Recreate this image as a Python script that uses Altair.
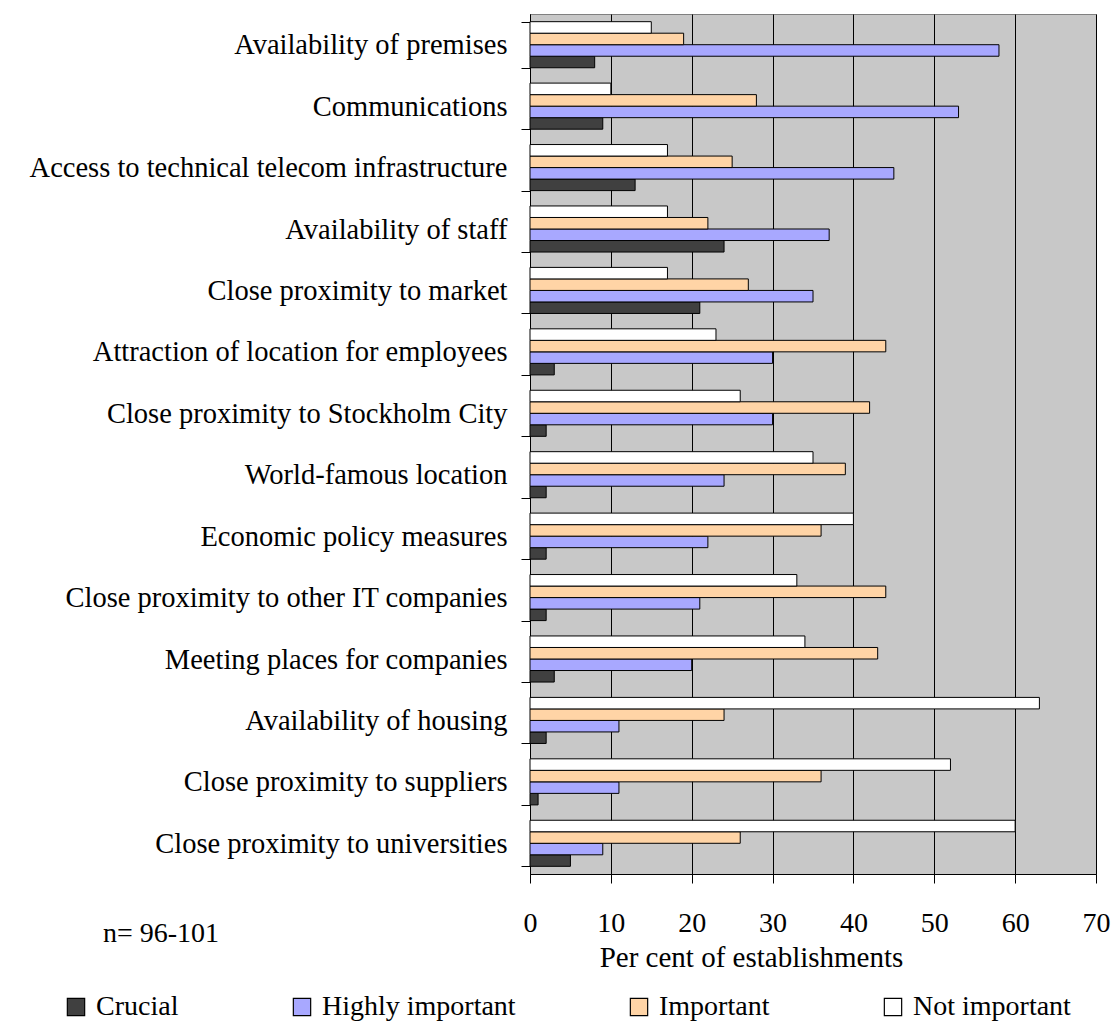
import altair as alt
import pandas as pd

factors = [
    "Availability of premises",
    "Communications",
    "Access to technical telecom infrastructure",
    "Availability of staff",
    "Close proximity to market",
    "Attraction of location for employees",
    "Close proximity to Stockholm City",
    "World-famous location",
    "Economic policy measures",
    "Close proximity to other IT companies",
    "Meeting places for companies",
    "Availability of housing",
    "Close proximity to suppliers",
    "Close proximity to universities",
]
crucial = [8, 9, 13, 24, 21, 3, 2, 2, 2, 2, 3, 2, 1, 5]
highly_important = [58, 53, 45, 37, 35, 30, 30, 24, 22, 21, 20, 11, 11, 9]
important = [19, 28, 25, 22, 27, 44, 42, 39, 36, 44, 43, 24, 36, 26]
not_important = [15, 10, 17, 17, 17, 23, 26, 35, 40, 33, 34, 63, 52, 60]

levels = ["Crucial", "Highly important", "Important", "Not important"]
level_colors = ["#404040", "#A8A8FF", "#FFD4A6", "#FFFFFF"]
x_ticks = [0, 10, 20, 30, 40, 50, 60, 70]
note_text = ["n= 96-101"]

rows = []
for lvl, vals in zip(levels, [crucial, highly_important, important, not_important]):
    for f, v in zip(factors, vals):
        rows.append({"factor": f, "level": lvl, "value": v})
df = pd.DataFrame(rows)

FONT = "Liberation Serif"
FS = 28

bars = alt.Chart(df).mark_bar(stroke="black", strokeWidth=1).encode(
    y=alt.Y(
        "factor:N",
        sort=factors,
        title=None,
        scale=alt.Scale(paddingInner=0.25, paddingOuter=0.125),
        axis=alt.Axis(
            tickBand="extent",
            tickSize=9,
            tickColor="black",
            domainColor="black",
            labelFont=FONT,
            labelFontSize=28.5,
            labelColor="black",
            labelLimit=0,
            labelPadding=14,
            grid=False,
        ),
    ),
    yOffset=alt.YOffset(
        "level:N",
        sort=["Not important", "Important", "Highly important", "Crucial"],
        scale=alt.Scale(paddingInner=0, paddingOuter=0),
    ),
    x=alt.X(
        "value:Q",
        scale=alt.Scale(domain=[0, 70], nice=False),
        title="Per cent of establishments",
        axis=alt.Axis(
            values=x_ticks,
            grid=True,
            gridColor="black",
            gridWidth=1,
            gridOpacity=1,
            tickSize=9,
            tickColor="black",
            domainColor="black",
            labelFont=FONT,
            labelFontSize=FS,
            labelColor="black",
            labelPadding=26,
            labelFlush=False,
            titleFont=FONT,
            titleFontSize=29,
            titleFontWeight="normal",
            titleColor="black",
            titleAlign="center",
            titleBaseline="alphabetic",
            titleX=221,
            titleY=92,
        ),
    ),
    color=alt.Color(
        "level:N",
        scale=alt.Scale(domain=levels, range=level_colors),
        legend=alt.Legend(
            title=None,
            orient="none",
            direction="horizontal",
            legendX=-468,
            legendY=979,
            symbolType="square",
            symbolSize=300,
            symbolStrokeColor="black",
            symbolStrokeWidth=1.2,
            symbolOpacity=1,
            labelFont=FONT,
            labelFontSize=FS,
            labelColor="black",
            labelOffset=6,
            columnPadding=109,
            padding=0,
            labelLimit=0,
        ),
    ),
)

note = alt.Chart(pd.DataFrame({"t": note_text})).mark_text(
    align="left", baseline="alphabetic", font=FONT, fontSize=FS, color="black"
).encode(text="t:N", x=alt.value(-427), y=alt.value(928))

chart = alt.layer(bars, note).properties(
    width=566,
    height=860,
    padding={"left": 530, "top": 14, "right": 18, "bottom": 147},
    autosize=alt.AutoSizeParams(type="none"),
    background="white",
).configure_view(fill="#C8C8C8", stroke="#808080", strokeWidth=1)

chart.save("out.html", embed_options={"renderer": "svg", "actions": False})
